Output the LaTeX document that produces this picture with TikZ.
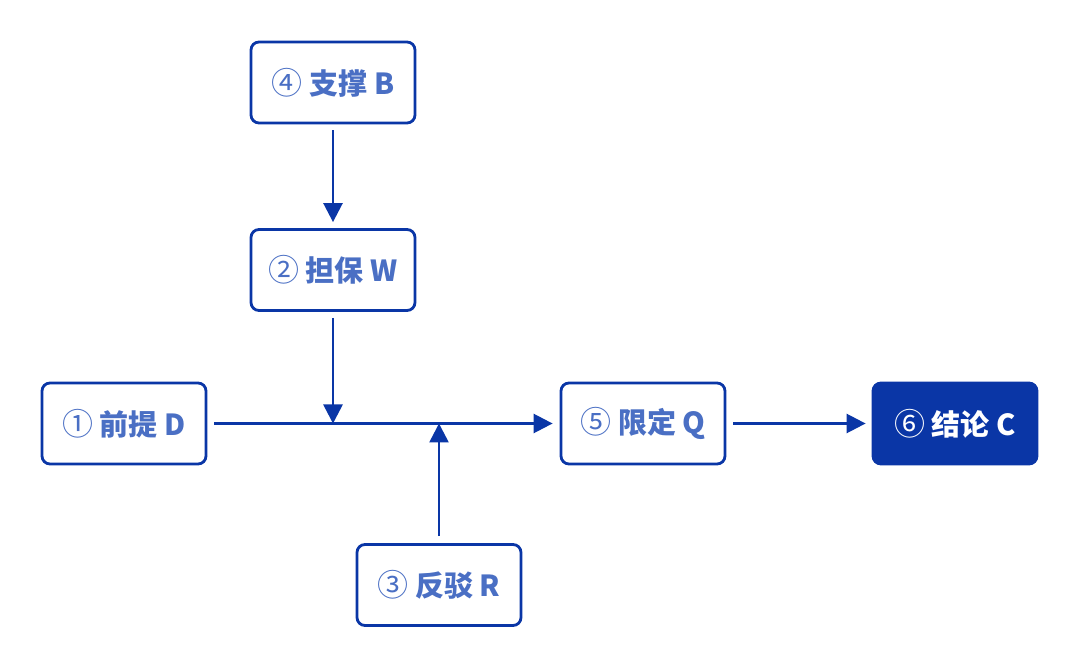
\documentclass[tikz,border=0pt]{standalone}
\usepackage{fontspec}
\setmainfont{Noto Sans CJK SC}
\usetikzlibrary{arrows.meta}
\definecolor{edge}{HTML}{0A36A6}
\definecolor{txt}{HTML}{4A6FC4}
\newcommand{\cnum}[1]{{\mdseries\fontsize{31}{30}\selectfont #1}}
\begin{document}
\begin{tikzpicture}[x=1pt,y=-1pt,
  box/.style={draw=edge,line width=2.8pt,rounded corners=8pt,minimum width=164pt,minimum height=81pt,fill=white,
    text=txt,font=\fontsize{29}{34}\selectfont\bfseries},
  darkbox/.style={box,fill=edge,text=white},
  conn/.style={draw=edge,line width=2.6pt,-{Triangle[length=19pt,width=19pt]}}]
\useasboundingbox (0,0) rectangle (1080,668);
\node[box] (B) at (333,82.5) {\cnum{④} 支撑 B};
\node[box] (W) at (333,270) {\cnum{②} 担保 W};
\node[box] (D) at (124,423.5) {\cnum{①} 前提 D};
\node[box] (Q) at (643,423.5) {\cnum{⑤} 限定 Q};
\node[darkbox] (C) at (955,423.5) {\cnum{⑥} 结论 C};
\node[box] (R) at (439,585) {\cnum{③} 反驳 R};
\coordinate (j1) at (333,423.5);
\coordinate (j2) at (439,423.5);
\draw[conn] ([yshift=-6pt]B.south) -- ([yshift=6pt]W.north);
\draw[conn] ([xshift=7pt]D.east) -- ([xshift=-7pt]Q.west);
\draw[conn] ([yshift=-6pt]W.south) -- (j1);
\draw[conn] ([yshift=7pt]R.north) -- (j2);
\draw[conn] ([xshift=7pt]Q.east) -- ([xshift=-6pt]C.west);
\end{tikzpicture}
\end{document}
